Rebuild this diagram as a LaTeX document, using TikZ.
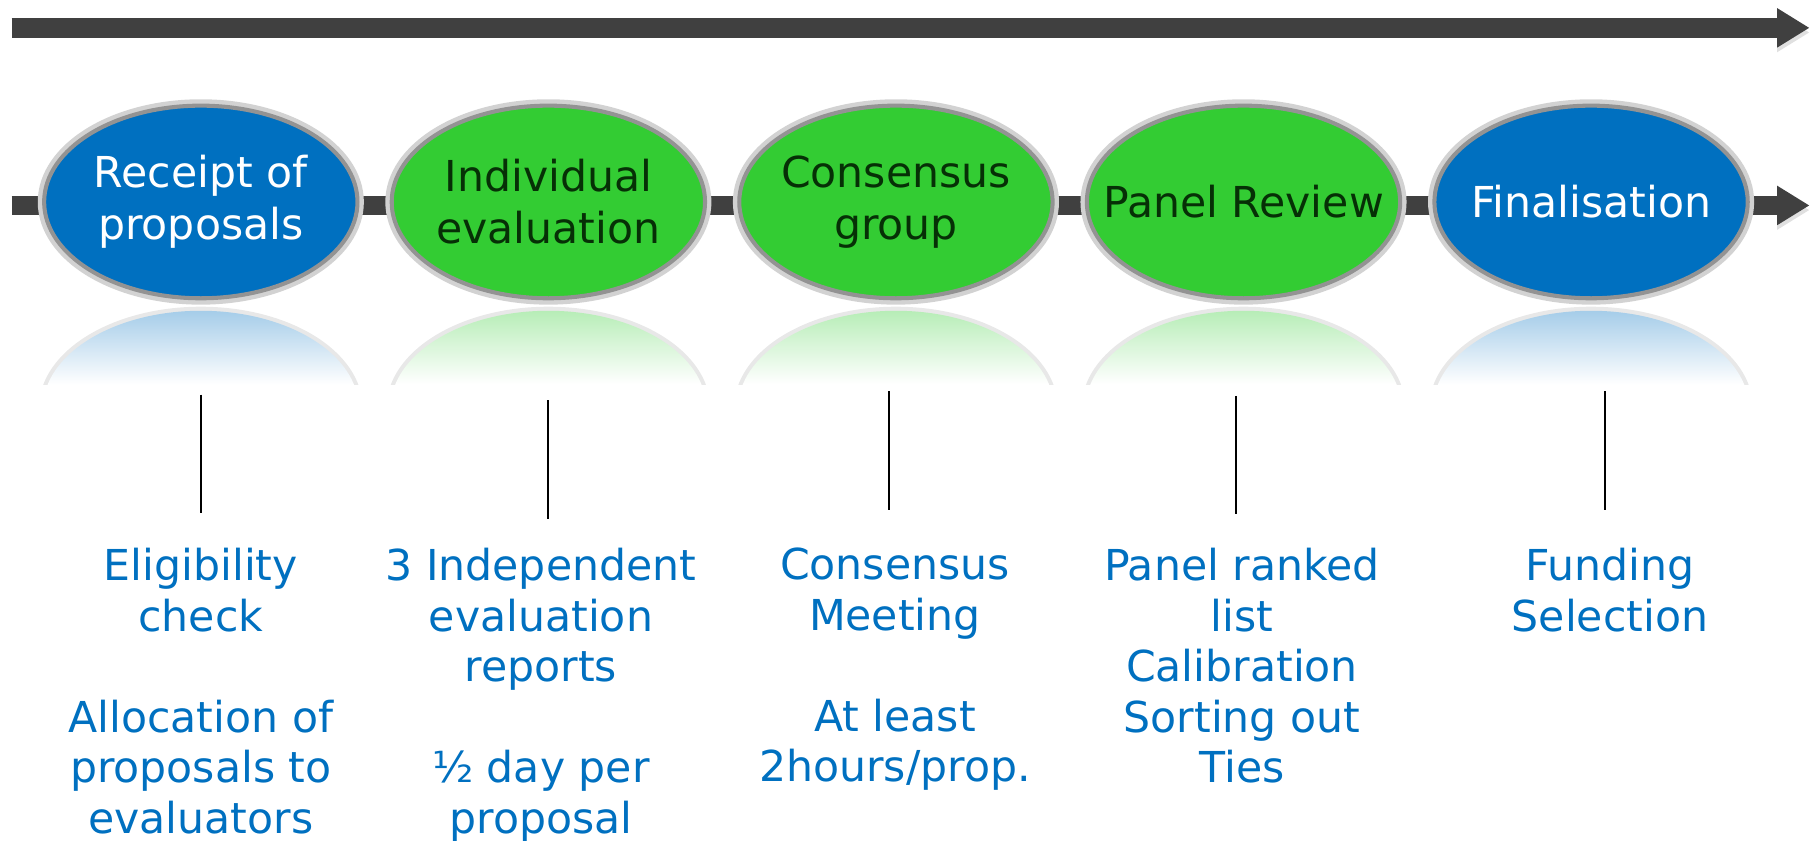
\documentclass[tikz,border=0pt]{standalone}
\usepackage{fontspec}
\setmainfont{DejaVu Sans}
\usetikzlibrary{arrows.meta,positioning,shapes.geometric}

\definecolor{stageblue}{RGB}{0,112,192}
\definecolor{stagegreen}{RGB}{51,204,51}
\definecolor{darkgreen}{RGB}{6,48,6}
\definecolor{bargray}{RGB}{64,64,64}

\begin{document}
\begin{tikzpicture}[
            x = 0.02cm, y = -0.02cm, % one unit per pixel, y runs down
            node distance = 0.52cm, % gap between the stages
            timebar/.style = {bargray, line width=0.34cm,
                -{Triangle[length=0.56cm, width=0.64cm]},
                preaction={draw=black!12, transform canvas={yshift=-0.08cm}}},
            stage/.style = {ellipse, minimum width=5.40cm, minimum height=3.32cm,
                inner xsep=-0.6cm, inner ysep=0pt, draw=gray!85, line width=0.07cm,
                align=center, preaction={draw=gray!35, line width=0.22cm},
                font=\fontsize{20.9}{25.4}\selectfont},
            bluestage/.style = {stage, fill=stageblue, text=white},
            greenstage/.style = {stage, fill=stagegreen, text=darkgreen},
            note/.style = {text=stageblue, align=center, anchor=north, inner sep=0pt,
                font=\fontsize{20.9}{24.75}\selectfont},
            stem/.style = {black, line width=0.04cm}
        ]
    \useasboundingbox (0,0) rectangle (1568,724.5);

    % the two time lines
    \coordinate (topstart) at (10,24);
    \coordinate (topend) at (1559,24);
    \coordinate (midstart) at (10,177);
    \coordinate (midend) at (1559,177);
    \draw[timebar] (topstart) -- (topend);
    \draw[timebar] (midstart) -- (midend);

    \node[bluestage] (receipt) at (173,174) {Receipt of\\proposals};
    \node[greenstage] (indiv) [right=of receipt] {Individual\\evaluation};
    \node[greenstage] (consensus) [right=of indiv] {Consensus\\group};
    \node[greenstage] (panel) [right=of consensus] {Panel Review};
    \node[bluestage] (final) [right=of panel] {Finalisation};

    % mirror images under the stages
    \foreach \n/\c in {receipt/stageblue, indiv/stagegreen, consensus/stagegreen,
                       panel/stagegreen, final/stageblue} {
        \path (\n.south) ++(0,93) coordinate (m);
        \begin{scope}
            \clip ([xshift=-3cm]\n.south) rectangle ([xshift=3cm,yshift=-1.45cm]\n.south);
            \draw[gray!18, line width=0.14cm] (m) ellipse [x radius=136, y radius=84];
            \begin{scope}
                \clip (m) ellipse [x radius=136, y radius=84];
                \shade[top color=\c!36!white, bottom color=white]
                    ([xshift=-3cm,yshift=-0.15cm]\n.south) rectangle ([xshift=3cm,yshift=-1.45cm]\n.south);
            \end{scope}
        \end{scope}
    }

    \foreach \i/\x/\a in {1/173/340, 2/472/345, 3/766/337, 4/1065/341, 5/1383/337} {
        \coordinate (up\i) at (\x,\a);
        \coordinate (down\i) at (\x,\a+102);
        \draw[stem] (up\i) -- (down\i);
    }

    \node[note] (elig) at (173,472) {Eligibility\\check\\[24.75pt]Allocation of\\proposals to\\evaluators};
    \node[note] (reports) at (466,472) {3 Independent\\evaluation\\reports\\[24.75pt]½ day per\\proposal};
    \node[note] (meeting) at (771,472) {Consensus\\Meeting\\[24.75pt]At least\\2hours/prop.};
    \node[note] (ranked) at (1070,472) {Panel ranked\\list\\Calibration\\Sorting out\\Ties};
    \node[note] (funding) at (1387,472) {Funding\\Selection};

\end{tikzpicture}
\end{document}
